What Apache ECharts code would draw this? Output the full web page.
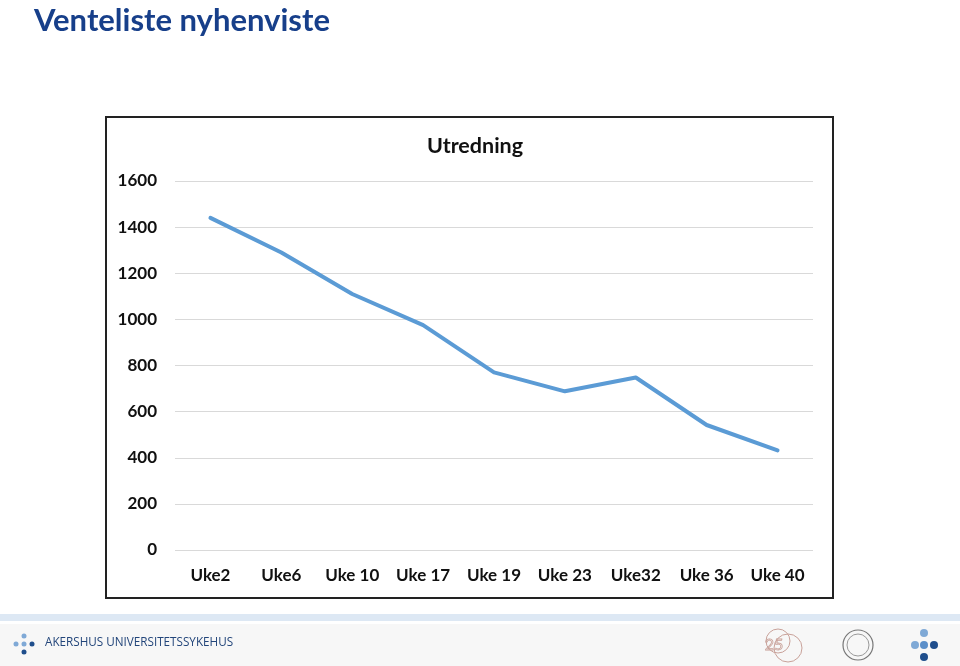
<!DOCTYPE html>
<html><head><meta charset="utf-8">
<script src="https://cdn.jsdelivr.net/npm/echarts@6/dist/echarts.min.js"></script>
<style>html,body{margin:0;padding:0;background:#fff}#c{width:960px;height:666px}</style>
</head><body><div id="c"></div>
<script>
const categories = ["Uke2","Uke6","Uke 10","Uke 17","Uke 19","Uke 23","Uke32","Uke 36","Uke 40"];
const values = [1440, 1290, 1110, 975, 770, 688, 748, 542, 432];
const yTicks = [0, 200, 400, 600, 800, 1000, 1200, 1400, 1600];
const pageTitle = "Venteliste nyhenviste";
const chartTitle = "Utredning";
const footerText = "AKERSHUS UNIVERSITETSSYKEHUS";

const FONT = "Lato, 'Open Sans', sans-serif";
const chart = echarts.init(document.getElementById('c'));
const dotC1 = '#7fa9d6', dotC2 = '#1f4e8c';
chart.setOption({
  animation: false,
  title: [
    {text: pageTitle, left: 29, top: 0, textStyle: {fontFamily: FONT, fontWeight: 'bold', fontSize: 31, color: '#173f8a'}},
    {text: chartTitle, left: 470, top: 130, textAlign: 'center', textStyle: {fontFamily: FONT, fontWeight: 'bold', fontSize: 21.5, color: '#111'}}
  ],
  grid: {left: 175, right: 147, top: 181, bottom: 116, containLabel: false},
  xAxis: {
    type: 'category', data: categories, boundaryGap: true,
    axisLine: {show: false}, axisTick: {show: false},
    axisLabel: {fontFamily: FONT, fontWeight: 'bold', fontSize: 17, color: '#111', margin: 17, interval: 0}
  },
  yAxis: {
    type: 'value', min: yTicks[0], max: yTicks[yTicks.length-1], interval: 200,
    axisLine: {show: false}, axisTick: {show: false},
    splitLine: {lineStyle: {color: '#d9d9d9', width: 1}},
    axisLabel: {fontFamily: FONT, fontWeight: 'bold', fontSize: 17, color: '#111', margin: 18, formatter: v => String(v)}
  },
  series: [{
    type: 'line', data: values, symbol: 'none',
    lineStyle: {color: '#5b9bd5', width: 4, cap: 'round', join: 'round'}
  }],
  graphic: [
    {type: 'rect', shape: {x: 106, y: 117, width: 727, height: 481}, style: {fill: 'none', stroke: '#222', lineWidth: 2}, z: -1},
    {type: 'rect', shape: {x: 0, y: 614, width: 960, height: 7}, style: {fill: '#dde8f4'}},
    {type: 'rect', shape: {x: 0, y: 624, width: 960, height: 42}, style: {fill: '#f7f7f7'}},
    {type: 'circle', shape: {cx: 24, cy: 636, r: 2.5}, style: {fill: dotC1}},
    {type: 'circle', shape: {cx: 16, cy: 644, r: 2.5}, style: {fill: dotC1}},
    {type: 'circle', shape: {cx: 24, cy: 644, r: 2.5}, style: {fill: dotC1}},
    {type: 'circle', shape: {cx: 32, cy: 644, r: 2.5}, style: {fill: dotC2}},
    {type: 'circle', shape: {cx: 24, cy: 652, r: 2.5}, style: {fill: dotC2}},
    {type: 'text', x: 45, y: 643, style: {text: footerText, fontFamily: "'Open Sans', sans-serif", fontSize: 11.7, fontWeight: 500, fill: '#22457a', verticalAlign: 'middle'}},
    {type: 'circle', shape: {cx: 778, cy: 641, r: 12}, style: {fill: 'none', stroke: '#c9a29a', lineWidth: 1}},
    {type: 'circle', shape: {cx: 788, cy: 648, r: 14}, style: {fill: 'none', stroke: '#c9a29a', lineWidth: 1}},
    {type: 'text', x: 774, y: 645, style: {text: '25', fontFamily: FONT, fontSize: 16, fill: 'none', stroke: '#c9a29a', lineWidth: 0.8, align: 'center', verticalAlign: 'middle'}},
    {type: 'circle', shape: {cx: 858, cy: 645, r: 15}, style: {fill: 'none', stroke: '#777', lineWidth: 1.2}},
    {type: 'circle', shape: {cx: 858, cy: 645, r: 11}, style: {fill: 'none', stroke: '#999', lineWidth: 1}},
    {type: 'circle', shape: {cx: 924, cy: 633, r: 4}, style: {fill: dotC1}},
    {type: 'circle', shape: {cx: 915, cy: 645, r: 4}, style: {fill: dotC1}},
    {type: 'circle', shape: {cx: 924, cy: 645, r: 4}, style: {fill: '#5b8fc9'}},
    {type: 'circle', shape: {cx: 934, cy: 645, r: 4}, style: {fill: dotC2}},
    {type: 'circle', shape: {cx: 924, cy: 657, r: 4}, style: {fill: dotC2}}
  ]
});
</script></body></html>
